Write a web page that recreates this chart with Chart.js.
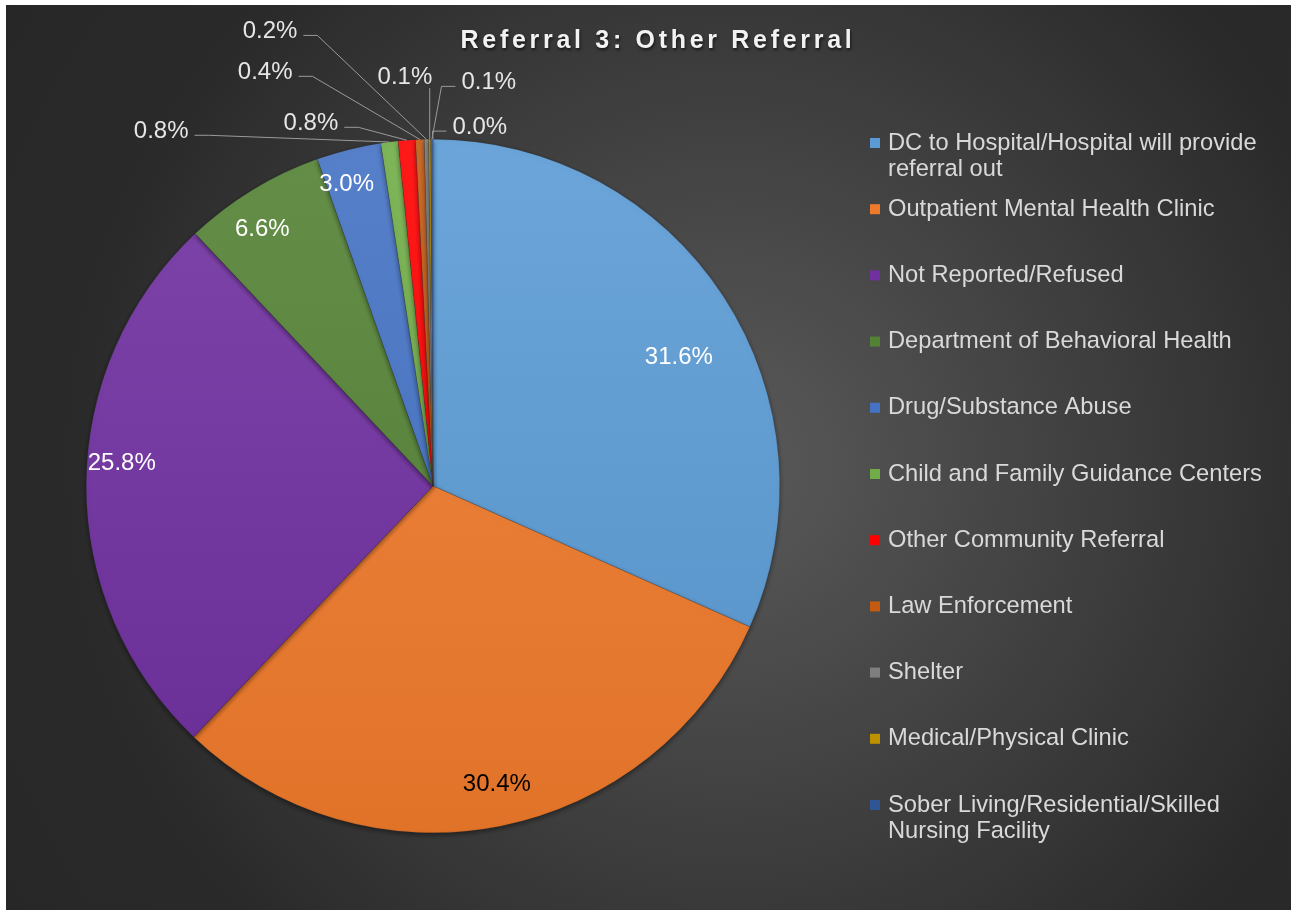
<!DOCTYPE html>
<html>
<head>
<meta charset="utf-8">
<title>Referral 3: Other Referral</title>
<script src="https://cdn.jsdelivr.net/npm/chart.js@4.4.1/dist/chart.umd.min.js"></script>
<style>
  html, body { margin: 0; padding: 0; background: #ffffff; }
  #wrap { position: absolute; left: 6px; top: 5px; width: 1285px; height: 905px; }
</style>
</head>
<body>
<div id="wrap"><canvas id="chart" width="1285" height="905"></canvas></div>
<script>
/**
 * Chart data
 */
const chartTitle = 'Referral 3: Other Referral';

const categories = [
  'DC to Hospital/Hospital will provide referral out',
  'Outpatient Mental Health Clinic',
  'Not Reported/Refused',
  'Department of Behavioral Health',
  'Drug/Substance Abuse',
  'Child and Family Guidance Centers',
  'Other Community Referral',
  'Law Enforcement',
  'Shelter',
  'Medical/Physical Clinic',
  'Sober Living/Residential/Skilled Nursing Facility',
  'Other'
];

// percent of referrals
const shares = [31.6, 30.4, 25.8, 6.6, 3.0, 0.8, 0.8, 0.4, 0.2, 0.1, 0.1, 0.0];

// only the first 11 entries fit in the legend box
const legendCount = 11;

/**
 * Styles
 */
const FONT = "'Liberation Sans', Arial, sans-serif";

const sliceColors = [
  '#5B9BD5', '#EF7A2C', '#7030A0', '#548235', '#4472C4', '#70AD47',
  '#FF0000', '#C55A11', '#7F7F7F', '#BF9000', '#2F5597', '#A5A5A5'
];

// label placement per slice: 'in' = polar inside the slice, 'out' = offset from center in radius units
const labelPlacement = [
  { mode: 'in', r: 0.80, da: 5.4, color: '#ffffff' },
  { mode: 'in', r: 0.88, da: -0.9, color: '#000000' },
  { mode: 'in', r: 0.90, da: 4.0, color: '#ffffff' },
  { mode: 'in', r: 0.89, da: -2.2, color: '#ffffff' },
  { mode: 'in', r: 0.905, da: -1.9, color: '#ffffff' },
  { mode: 'out', x: -0.784, y: -1.023, side: 'right' },
  { mode: 'out', x: -0.352, y: -1.046, side: 'right' },
  { mode: 'out', x: -0.484, y: -1.193, side: 'right' },
  { mode: 'out', x: -0.470, y: -1.311, side: 'right' },
  { mode: 'out', x: -0.081, y: -1.179, side: 'below' },
  { mode: 'out', x: 0.161, y: -1.164, side: 'left' },
  { mode: 'out', x: 0.135, y: -1.035, side: 'left' }
];

/**
 * Mix a hex colour with white (amt > 0) or black (amt < 0)
 */
function shade(hex, amt) {
  const n = parseInt(hex.slice(1), 16);
  let r = (n >> 16) & 255, g = (n >> 8) & 255, b = n & 255;
  const t = amt < 0 ? 0 : 255;
  const p = Math.abs(amt);
  r = Math.round(r + (t - r) * p);
  g = Math.round(g + (t - g) * p);
  b = Math.round(b + (t - b) * p);
  return `rgb(${r}, ${g}, ${b})`;
}

function sliceFill(context) {
  const chart = context.chart;
  const area = chart.chartArea;
  const base = sliceColors[context.dataIndex];
  if (!area) return base;
  const g = chart.ctx.createLinearGradient(0, area.top, 0, area.bottom);
  g.addColorStop(0, shade(base, 0.10));
  g.addColorStop(1, shade(base, -0.06));
  return g;
}

/**
 * Radial grey background
 */
const backgroundPlugin = {
  id: 'background',
  beforeDraw(chart) {
    const { ctx, width, height } = chart;
    const cx = 720, cy = 460;
    const g = ctx.createRadialGradient(cx, cy, 0, cx, cy, 900);
    g.addColorStop(0, '#5a5a5a');
    g.addColorStop(0.72, '#2a2a2a');
    g.addColorStop(1, '#262626');
    ctx.save();
    ctx.fillStyle = g;
    ctx.fillRect(0, 0, width, height);
    ctx.restore();
  }
};

/**
 * Soft shadow under the pie
 */
const shadowPlugin = {
  id: 'pieShadow',
  beforeDatasetsDraw(chart) {
    const ctx = chart.ctx;
    ctx.save();
    ctx.shadowColor = 'rgba(0, 0, 0, 0.45)';
    ctx.shadowBlur = 5;
    ctx.shadowOffsetY = 2;
  },
  afterDatasetsDraw(chart) {
    chart.ctx.restore();
  }
};

/**
 * Percentage labels, with leader lines for the thin slices
 */
const sliceLabelPlugin = {
  id: 'sliceLabels',
  afterDatasetsDraw(chart) {
    const ctx = chart.ctx;
    const arcs = chart.getDatasetMeta(0).data;
    ctx.save();
    ctx.font = `24px ${FONT}`;
    ctx.textAlign = 'center';
    ctx.textBaseline = 'middle';

    arcs.forEach((arc, i) => {
      const place = labelPlacement[i];
      const text = shares[i].toFixed(1) + '%';
      const R = arc.outerRadius;
      const mid = (arc.startAngle + arc.endAngle) / 2;

      if (place.mode === 'in') {
        const a = mid + place.da * Math.PI / 180;
        ctx.fillStyle = place.color;
        ctx.fillText(text, arc.x + Math.cos(a) * R * place.r, arc.y + Math.sin(a) * R * place.r);
        return;
      }

      const tx = arc.x + place.x * R;
      const ty = arc.y + place.y * R;
      const w = ctx.measureText(text).width;
      const ex = arc.x + Math.cos(mid) * R;
      const ey = arc.y + Math.sin(mid) * R;

      ctx.strokeStyle = '#9a9a9a';
      ctx.lineWidth = 1;
      ctx.beginPath();
      if (place.side === 'below') {
        ctx.moveTo(ex, ty + 11);
        ctx.lineTo(ex, ey);
      } else {
        const dir = place.side === 'right' ? 1 : -1;
        const sx = tx + dir * (w / 2 + 6);
        const sy = ty + 4;
        ctx.moveTo(sx, sy);
        ctx.lineTo(sx + dir * 14, sy);
        ctx.lineTo(ex, ey);
      }
      ctx.stroke();

      ctx.fillStyle = '#e6e6e6';
      ctx.fillText(text, tx, ty);
    });
    ctx.restore();
  }
};

/**
 * Title and right-hand legend
 */
function wrapText(ctx, text, maxWidth) {
  const words = text.split(' ');
  const lines = [];
  let line = '';
  words.forEach(word => {
    const test = line ? line + ' ' + word : word;
    if (line && ctx.measureText(test).width > maxWidth) {
      lines.push(line);
      line = word;
    } else {
      line = test;
    }
  });
  if (line) lines.push(line);
  return lines;
}

const titleLegendPlugin = {
  id: 'titleLegend',
  afterDraw(chart) {
    const ctx = chart.ctx;
    ctx.save();

    // title
    ctx.font = `bold 25px ${FONT}`;
    ctx.letterSpacing = '3.7px';
    ctx.textAlign = 'center';
    ctx.textBaseline = 'middle';
    ctx.shadowColor = 'rgba(0, 0, 0, 0.6)';
    ctx.shadowBlur = 3;
    ctx.shadowOffsetX = 1;
    ctx.shadowOffsetY = 2;
    ctx.fillStyle = '#f2f2f2';
    ctx.fillText(chartTitle, 652, 36);

    // legend
    ctx.letterSpacing = '0px';
    ctx.shadowColor = 'transparent';
    ctx.font = `23.7px ${FONT}`;
    ctx.textAlign = 'left';
    const startY = 138, step = 66.2, lineH = 26;
    categories.slice(0, legendCount).forEach((name, i) => {
      const y = startY + i * step;
      ctx.fillStyle = sliceColors[i];
      ctx.fillRect(864, y - 5, 10, 10);
      ctx.fillStyle = '#d9d9d9';
      wrapText(ctx, name, 385).forEach((line, k) => {
        ctx.fillText(line, 882, y + k * lineH);
      });
    });
    ctx.restore();
  }
};

new Chart(document.getElementById('chart'), {
  type: 'pie',
  data: {
    labels: categories,
    datasets: [{
      data: shares,
      backgroundColor: sliceFill,
      borderColor: 'rgba(40, 40, 40, 0.35)',
      borderWidth: 0.5
    }]
  },
  options: {
    responsive: false,
    animation: false,
    devicePixelRatio: 1,
    layout: { padding: { left: 80, top: 134, right: 511, bottom: 77 } },
    plugins: {
      legend: { display: false },
      title: { display: false },
      tooltip: { enabled: false }
    }
  },
  plugins: [backgroundPlugin, shadowPlugin, sliceLabelPlugin, titleLegendPlugin]
});
</script>
</body>
</html>
